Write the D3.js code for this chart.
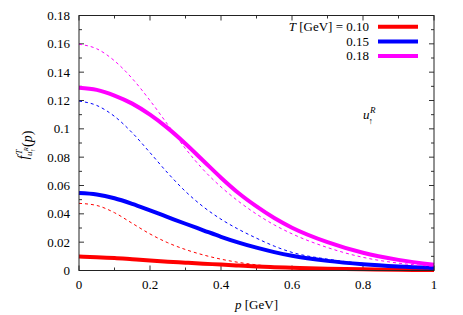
<!DOCTYPE html>
<html>
<head>
<meta charset="utf-8">
<script src="https://cdn.jsdelivr.net/npm/d3@7"></script>
<style>
  body { margin: 0; background: #fff; }
  svg text { font-family: "Times New Roman", Times, "Liberation Serif", "DejaVu Serif", "Noto Serif", serif; }
</style>
</head>
<body>
<svg id="chart"></svg>
<script>
// Plot frame (pixel layout of the gnuplot-style figure)
const width = 463;
const height = 315;
const margin = { top: 15.5, right: 29, bottom: 44.5, left: 79 };

// Data
const temps = ["0.10", "0.15", "0.18"];
const colors = ["#ff0000", "#0000ff", "#ff00ff"];

const pGrid = [0, 0.05, 0.1, 0.15, 0.2, 0.25, 0.3, 0.35, 0.4, 0.45, 0.5, 0.55, 0.6, 0.7, 0.8, 0.9, 1.0];

// solid curves
const solid010 = [0.0098, 0.0094, 0.0088, 0.0079, 0.0070, 0.0062, 0.0055, 0.0048, 0.0042, 0.0035, 0.0028, 0.0023, 0.0019, 0.0012, 0.0008, 0.0005, 0.0003];
const solid015 = [0.0547, 0.0537, 0.0510, 0.0470, 0.0424, 0.0377, 0.0330, 0.0284, 0.0238, 0.0197, 0.0161, 0.0130, 0.0104, 0.0068, 0.0044, 0.0028, 0.0017];
const solid018 = [0.1290, 0.1275, 0.1235, 0.1178, 0.1100, 0.1005, 0.0895, 0.0775, 0.0655, 0.0545, 0.0452, 0.0370, 0.0302, 0.0200, 0.0125, 0.0075, 0.0040];

// dashed curves
const dashed010 = [0.0474, 0.0459, 0.0408, 0.0333, 0.0258, 0.0196, 0.0148, 0.0110, 0.0080, 0.0057, 0.0040, 0.0027, 0.0018, 0.0008, 0.0004, 0.0002, 0.0001];
const dashed015 = [0.1196, 0.1165, 0.1088, 0.0972, 0.0832, 0.0688, 0.0558, 0.0450, 0.0362, 0.0290, 0.0228, 0.0172, 0.0128, 0.0080, 0.0050, 0.0030, 0.0015];
const dashed018 = [0.1597, 0.1565, 0.1480, 0.1355, 0.1200, 0.1030, 0.0860, 0.0712, 0.0590, 0.0487, 0.0398, 0.0322, 0.0259, 0.0162, 0.0093, 0.0052, 0.0030];

const xMajor = [0, 0.2, 0.4, 0.6, 0.8, 1.0];
const yMajor = [0, 0.02, 0.04, 0.06, 0.08, 0.10, 0.12, 0.14, 0.16, 0.18];

const solids = [solid010, solid015, solid018];
const dashes = [dashed010, dashed015, dashed018];

const svg = d3.select("#chart")
  .attr("width", width)
  .attr("height", height);

const x = d3.scaleLinear().domain([0, 1]).range([margin.left, width - margin.right]);
const y = d3.scaleLinear().domain([0, 0.18]).range([height - margin.bottom, margin.top]);

const fmt = d => String(+d.toFixed(2));

// ticks (inward, mirrored on all four sides)
const ticks = svg.append("g").attr("stroke", "#333").attr("stroke-width", 1);
const xMinor = d3.range(0, 1.0001, 0.1);
const yMinor = d3.range(0, 0.18001, 0.01);
xMinor.forEach(v => {
  const len = xMajor.some(m => Math.abs(m - v) < 1e-6) ? 5 : 3;
  ticks.append("line").attr("x1", x(v)).attr("x2", x(v)).attr("y1", y(0)).attr("y2", y(0) - len);
  ticks.append("line").attr("x1", x(v)).attr("x2", x(v)).attr("y1", y(0.18)).attr("y2", y(0.18) + len);
});
yMinor.forEach(v => {
  const len = yMajor.some(m => Math.abs(m - v) < 1e-6) ? 5 : 3;
  ticks.append("line").attr("x1", x(0)).attr("x2", x(0) + len).attr("y1", y(v)).attr("y2", y(v));
  ticks.append("line").attr("x1", x(1)).attr("x2", x(1) - len).attr("y1", y(v)).attr("y2", y(v));
});

// tick labels
svg.append("g").selectAll("text")
  .data(xMajor)
  .enter()
  .append("text")
  .attr("x", d => x(d))
  .attr("y", y(0) + 18)
  .attr("text-anchor", "middle")
  .attr("font-size", 13)
  .text(fmt);

svg.append("g").selectAll("text")
  .data(yMajor)
  .enter()
  .append("text")
  .attr("x", x(0) - 9)
  .attr("y", d => y(d) + 4.5)
  .attr("text-anchor", "end")
  .attr("font-size", 13)
  .text(fmt);

// curves
const line = d3.line()
  .x((d, i) => x(pGrid[i]))
  .y(d => y(d))
  .curve(d3.curveMonotoneX);

const plot = svg.append("g");

solids.forEach((s, i) => {
  plot.append("path")
    .attr("d", line(s))
    .attr("fill", "none")
    .attr("stroke", colors[i])
    .attr("stroke-width", 4);
});

dashes.forEach((s, i) => {
  plot.append("path")
    .attr("d", line(s))
    .attr("fill", "none")
    .attr("stroke", colors[i])
    .attr("stroke-width", 1)
    .attr("stroke-dasharray", "3,3");
});

// frame
svg.append("rect")
  .attr("x", x(0))
  .attr("y", y(0.18))
  .attr("width", x(1) - x(0))
  .attr("height", y(0) - y(0.18))
  .attr("fill", "none")
  .attr("stroke", "#222")
  .attr("stroke-width", 1);

// legend
const legend = svg.append("g");
temps.forEach((t, i) => {
  const ly = 26.7 + i * 14.7;
  const txt = legend.append("text")
    .attr("x", 369)
    .attr("y", ly + 4.2)
    .attr("text-anchor", "end")
    .attr("font-size", 13);
  if (i === 0) {
    txt.append("tspan").attr("font-style", "italic").text("T");
    txt.append("tspan").text(" [GeV] = " + t);
  } else {
    txt.text(t);
  }
  legend.append("line")
    .attr("x1", 378).attr("x2", 418)
    .attr("y1", ly).attr("y2", ly)
    .attr("stroke", colors[i])
    .attr("stroke-width", 4);
});

// u_up^R annotation
const ann = svg.append("text").attr("x", 363).attr("y", 119).attr("font-size", 13);
ann.append("tspan").attr("font-style", "italic").text("u");
ann.append("tspan").attr("font-style", "italic").attr("font-size", 9).attr("dx", 0.5).attr("dy", -6).text("R");
ann.append("tspan").attr("font-size", 9).attr("dx", -7).attr("dy", 11).text("↑");

// axis titles
const xt = svg.append("text")
  .attr("x", x(0.5))
  .attr("y", 309)
  .attr("text-anchor", "middle")
  .attr("font-size", 13);
xt.append("tspan").attr("font-style", "italic").text("p");
xt.append("tspan").text(" [GeV]");

const yt = svg.append("text")
  .attr("transform", "translate(28,145) rotate(-90)")
  .attr("text-anchor", "middle")
  .attr("font-size", 14);
yt.append("tspan").attr("font-style", "italic").text("f");
yt.append("tspan").attr("font-style", "italic").attr("font-size", 9).attr("dx", 1).attr("dy", -6).text("T");
yt.append("tspan").attr("font-style", "italic").attr("font-size", 9).attr("dx", -6).attr("dy", 10).text("u");
yt.append("tspan").attr("font-style", "italic").attr("font-size", 6.5).attr("dx", 0.3).attr("dy", -4).text("R");
yt.append("tspan").attr("font-size", 6.5).attr("dx", -4.5).attr("dy", 7).text("↑");
yt.append("tspan").attr("dy", -3).attr("dx", 1.5).text("(");
yt.append("tspan").attr("font-style", "italic").text("p");
yt.append("tspan").text(")");
</script>
</body>
</html>
